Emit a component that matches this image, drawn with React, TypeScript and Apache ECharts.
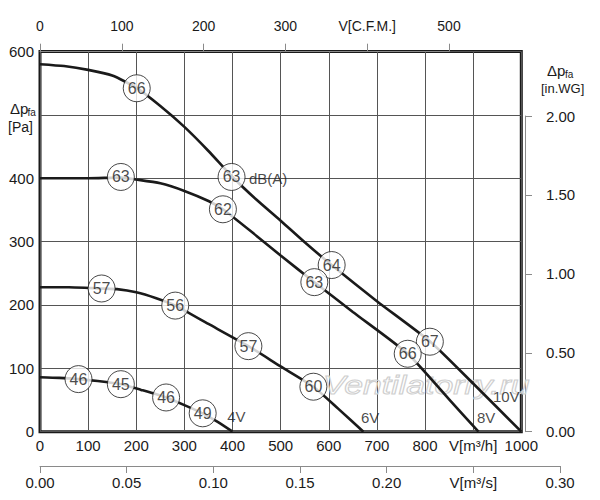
import React, { useEffect, useRef } from "react";
import * as echarts from "echarts";

const FONT = "'Liberation Sans', Arial, Helvetica, sans-serif";
const INK = "#1a1a1a";

// Fan curves: [V m³/h, Δp Pa]
const curve10V: number[][] = [[0, 580], [50, 577], [100, 571], [150, 562], [200, 543], [250, 514], [300, 481], [350, 443], [400, 402], [450, 366], [500, 333], [550, 299], [606, 263], [700, 206], [811, 142], [900, 76], [1000, 0]];
const curve8V: number[][] = [[0, 400], [100, 400], [168, 401], [200, 398], [250, 392], [300, 380], [350, 364], [380, 351], [450, 309], [500, 278], [570, 236], [650, 189], [764, 123], [850, 51], [911, 0]];
const curve6V: number[][] = [[0, 228], [60, 228], [128, 226], [160, 225], [200, 220], [240, 211], [281, 199], [350, 170], [433, 135], [500, 103], [568, 71], [620, 36], [672, 0]];
const curve4V: number[][] = [[0, 86], [40, 85], [80, 83], [120, 80], [168, 75], [210, 66], [262, 54], [300, 42], [338, 29], [370, 15], [400, 0]];

// Sound level markers: [V m³/h, Δp Pa, dB(A)]
const db10V: number[][] = [[201, 542, 66], [398, 402, 63], [606, 263, 64], [810, 142, 67]];
const db8V: number[][] = [[168, 402, 63], [380, 351, 62], [570, 236, 63], [764, 123, 66]];
const db6V: number[][] = [[128, 226, 57], [281, 199, 56], [433, 135, 57], [568, 71, 60]];
const db4V: number[][] = [[80, 83, 46], [168, 75, 45], [262, 54, 46], [338, 29, 49]];

// Text annotations: [V m³/h, Δp Pa, text]
const notes: [number, number, string][] = [
  [434, 399, "dB(A)"],
  [389, 24, "4V"],
  [667, 23, "6V"],
  [908, 23, "8V"],
  [941, 55, "10V"],
];

// Axes
const m3hRange = [0, 1000];
const m3hStep = 100;
const m3hName = "V[m³/h]";
const m3hNameAt = 900;
const paRange = [0, 600];
const paStep = 100;
const paHiddenLabel = 500; // replaced by the axis title
const cfmRange = [0, 500];
const cfmStep = 100;
const cfmName = "V[C.F.M.]";
const cfmNameAt = 400;
const m3sRange = [0, 0.3];
const m3sStep = 0.05;
const m3sName = "V[m³/s]";
const m3sNameAt = 0.25;
const wgRange = [0, 2];
const wgStep = 0.5;

const lineSeries = (name: string, data: number[][]) => ({
  name,
  type: "line",
  xAxisIndex: 0,
  yAxisIndex: 0,
  data,
  showSymbol: false,
  smooth: 0.2,
  lineStyle: { color: INK, width: 2.6 },
  z: 3,
  silent: true,
});

const dbSeries = (name: string, data: number[][]) => ({
  name,
  type: "scatter",
  xAxisIndex: 0,
  yAxisIndex: 0,
  data,
  symbol: "circle",
  symbolSize: 27,
  itemStyle: { color: "#fff", borderColor: INK, borderWidth: 1 },
  label: {
    show: true,
    position: "inside",
    formatter: (p: any) => String(p.value[2]),
    fontSize: 16,
    fontFamily: FONT,
    color: INK,
  },
  z: 5,
  silent: true,
});

const axisText = { fontFamily: FONT, color: INK, fontSize: 15 };

export default function App() {
  const ref = useRef<HTMLDivElement>(null);
  useEffect(() => {
    document.body.style.margin = "0";
    const chart = echarts.init(ref.current!, null, { renderer: "svg" });
    const option: any = {
      animation: false,
      backgroundColor: "#fff",
      textStyle: { fontFamily: FONT },
      grid: [
        { left: 40, right: 78.7, top: 51.5, bottom: 68.3, show: true, borderColor: INK, borderWidth: 3, outerBoundsMode: "none" },
        { left: 40, width: 409, top: 41.7, height: 10, outerBoundsMode: "none" },
        { left: 40, right: 40, top: 456, height: 10, outerBoundsMode: "none" },
        { left: 525, right: 68, top: 116, bottom: 68.3, outerBoundsMode: "none" },
      ],
      xAxis: [
        {
          gridIndex: 0, type: "value", position: "bottom",
          min: m3hRange[0], max: m3hRange[1], interval: m3hStep,
          axisLine: { show: false }, axisTick: { show: false },
          splitLine: { show: true, lineStyle: { color: "#555", width: 1 } },
          axisLabel: { ...axisText, margin: 6, formatter: (v: number) => (v === m3hNameAt ? m3hName : String(v)) },
        },
        {
          gridIndex: 1, type: "value", position: "top",
          min: cfmRange[0], max: cfmRange[1], interval: cfmStep,
          axisLine: { show: true, lineStyle: { color: "#8a8a8a", width: 1 } },
          axisTick: { show: true, length: 8, lineStyle: { color: "#8a8a8a", width: 1 } },
          splitLine: { show: false },
          axisLabel: { ...axisText, fontSize: 14, margin: 9, formatter: (v: number) => (v === cfmNameAt ? cfmName : String(v)) },
        },
        {
          gridIndex: 2, type: "value", position: "bottom",
          min: m3sRange[0], max: m3sRange[1], interval: m3sStep,
          axisLine: { show: true, lineStyle: { color: "#8a8a8a", width: 1 } },
          axisTick: { show: true, length: 7, lineStyle: { color: "#8a8a8a", width: 1 } },
          splitLine: { show: false },
          axisLabel: { ...axisText, margin: 9, formatter: (v: number) => (Math.abs(v - m3sNameAt) < 1e-6 ? m3sName : v.toFixed(2)) },
        },
        { gridIndex: 3, type: "value", show: false, min: 0, max: 1 },
      ],
      yAxis: [
        {
          gridIndex: 0, type: "value",
          min: paRange[0], max: paRange[1], interval: paStep,
          axisLine: { show: false }, axisTick: { show: false },
          splitLine: { show: true, lineStyle: { color: "#555", width: 1 } },
          axisLabel: { ...axisText, margin: 6, formatter: (v: number) => (v === paHiddenLabel ? "" : String(v)) },
        },
        { gridIndex: 1, type: "value", show: false, min: 0, max: 1 },
        { gridIndex: 2, type: "value", show: false, min: 0, max: 1 },
        {
          gridIndex: 3, type: "value", position: "right",
          min: wgRange[0], max: wgRange[1], interval: wgStep,
          axisLine: { show: true, lineStyle: { color: "#8a8a8a", width: 1 } },
          axisTick: { show: true, length: 7, lineStyle: { color: "#8a8a8a", width: 1 } },
          splitLine: { show: false },
          axisLabel: { ...axisText, margin: 14, formatter: (v: number) => v.toFixed(2) },
        },
      ],
      graphic: [
        {
          type: "text", x: 323, y: 385, scaleX: 1.3, z: 1, silent: true,
          style: { text: "Ventilatorry.ru", fontFamily: FONT, fontStyle: "italic", fontSize: 26, fill: "rgba(255,255,255,0)", stroke: "#cfcfcf", lineWidth: 1, verticalAlign: "middle", align: "left" },
        },
        { type: "text", x: 10, y: 108, style: { text: "Δp", fontFamily: FONT, fontSize: 15, fill: INK, verticalAlign: "middle" } },
        { type: "text", x: 27.5, y: 112, style: { text: "fa", fontFamily: FONT, fontSize: 10, fill: INK, verticalAlign: "middle" } },
        { type: "text", x: 8, y: 127, style: { text: "[Pa]", fontFamily: FONT, fontSize: 14, fill: INK, verticalAlign: "middle" } },
        { type: "text", x: 547, y: 70, style: { text: "Δp", fontFamily: FONT, fontSize: 15, fill: INK, verticalAlign: "middle" } },
        { type: "text", x: 565, y: 74, style: { text: "fa", fontFamily: FONT, fontSize: 10, fill: INK, verticalAlign: "middle" } },
        { type: "text", x: 541, y: 88, style: { text: "[in.WG]", fontFamily: FONT, fontSize: 13, fill: INK, verticalAlign: "middle" } },
      ],
      series: [
        lineSeries("10V", curve10V),
        lineSeries("8V", curve8V),
        lineSeries("6V", curve6V),
        lineSeries("4V", curve4V),
        dbSeries("dB 10V", db10V),
        dbSeries("dB 8V", db8V),
        dbSeries("dB 6V", db6V),
        dbSeries("dB 4V", db4V),
        {
          name: "notes",
          type: "scatter",
          xAxisIndex: 0,
          yAxisIndex: 0,
          data: notes.map((n) => [n[0], n[1], n[2]]),
          symbolSize: 0,
          itemStyle: { color: "transparent" },
          label: {
            show: true,
            position: "inside",
            align: "left",
            verticalAlign: "middle",
            formatter: (p: any) => String(p.value[2]),
            fontSize: 15,
            fontFamily: FONT,
            color: INK,
          },
          z: 6,
          silent: true,
        },
      ],
    };
    chart.setOption(option);
    return () => chart.dispose();
  }, []);
  return <div ref={ref} style={{ width: 600, height: 500 }} />;
}
